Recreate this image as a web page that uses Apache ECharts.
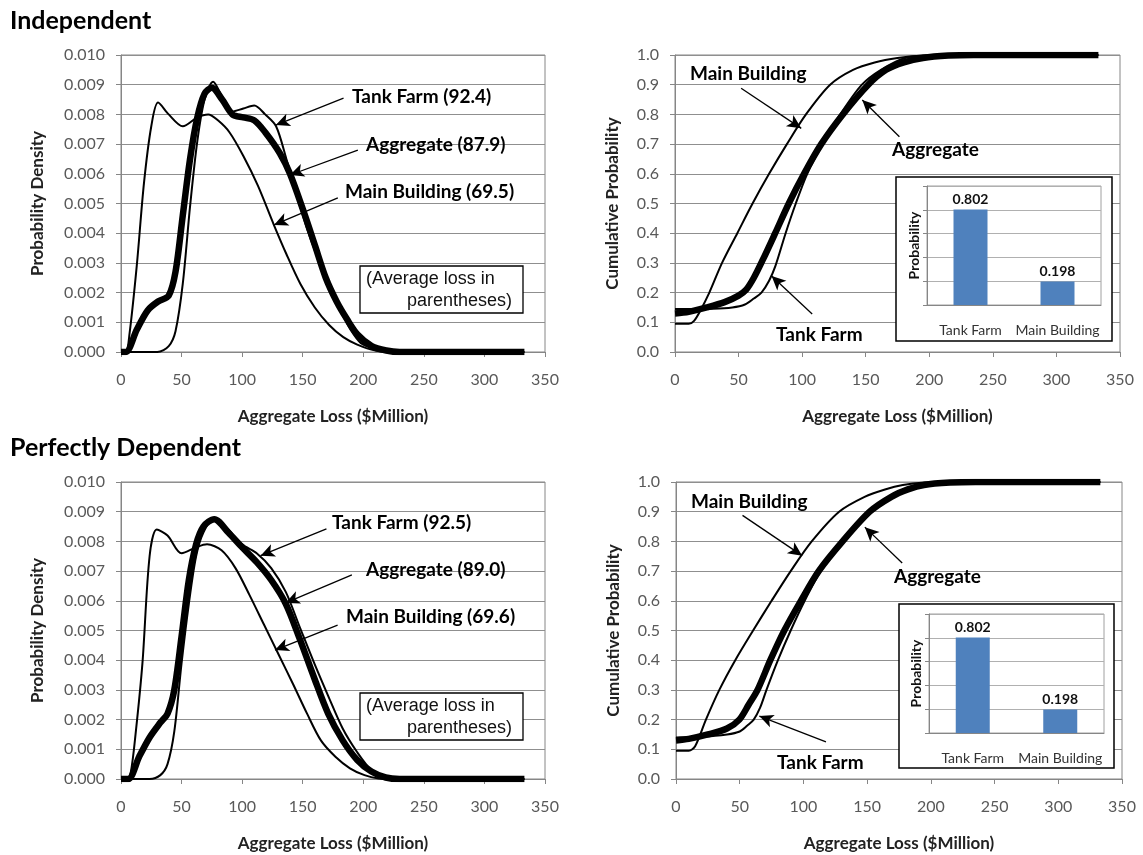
<!doctype html>
<html lang="en">
<head>
<meta charset="UTF-8">
<title>Aggregate loss</title>
<style>
  html, body { margin: 0; padding: 0; background: #fff; }
</style>
</head>
<body>
<div id="main" style="width: 1143px;height:855px;"></div>
<script src="https://cdn.jsdelivr.net/npm/echarts@6/dist/echarts.min.js"></script>
<script>
// density curves, [loss $M, density]
var indTankPdf = [[0,0],[30,0],[39.4,0.0002],[45,0.0007],[51,0.0023],[57,0.0049],[63,0.0071],[69,0.0085],[76,0.0091],[83.5,0.0086],[92,0.0081],[101,0.0082],[110,0.0083],[119,0.008],[128,0.0076],[136.5,0.0065],[145,0.0053],[154,0.0041],[163,0.0031],[172,0.0022],[181,0.0014],[189.5,0.00075],[198,0.0003],[210,0.0001],[222,0],[333,0]];
var indAggPdf = [[0,0],[4,0],[13,0.00075],[22,0.0014],[30.6,0.0017],[39.4,0.0019],[45,0.0027],[51,0.0046],[57,0.0065],[63,0.0079],[69,0.0087],[75,0.0089],[83.5,0.0085],[92,0.008],[101,0.0079],[110,0.0078],[119,0.0074],[131,0.0067],[139.5,0.006],[151,0.0047],[160,0.0036],[169,0.0025],[178,0.0017],[186.6,0.0011],[195,0.0006],[207,0.0002],[219,0.00005],[230,0],[333,0]];
var indMainPdf = [[0,0],[4,0],[7,0.0006],[13,0.0029],[19,0.0057],[25,0.0076],[30.6,0.0084],[39.4,0.008],[51,0.0076],[63,0.0079],[72,0.008],[80,0.0078],[89.5,0.0074],[101,0.0066],[113,0.0056],[126,0.0043],[136.5,0.0033],[148,0.0023],[160,0.0015],[172,0.0009],[183.5,0.0005],[195,0.00025],[210,0.00005],[225,0],[333,0]];

var depTankPdf = [[0,0],[23.6,0],[32.5,0.00013],[38.4,0.0005],[44,0.0016],[50,0.0039],[56,0.0059],[62,0.0075],[68,0.0083],[77,0.0088],[88.6,0.0084],[100,0.0079],[112,0.0076],[124,0.0071],[136,0.0063],[147.7,0.0051],[159.5,0.0039],[171,0.0028],[183,0.0017],[195,0.0009],[206.7,0.0003],[218.5,0.00005],[230,0],[333,0]];
var depAggPdf = [[0,0],[6,0],[15,0.00075],[23.6,0.0014],[32.5,0.0019],[38.4,0.0022],[44,0.003],[50,0.0048],[56,0.0067],[62,0.0079],[68,0.0085],[77,0.00875],[88.6,0.0083],[100,0.0078],[112,0.0073],[124,0.0067],[136,0.0059],[147.7,0.0047],[159.5,0.0034],[171,0.0022],[183,0.0013],[195,0.00064],[206.7,0.00025],[218.5,0.00005],[230,0],[333,0]];
var depMainPdf = [[0,0],[5,0],[8,0.0002],[12,0.0015],[17.7,0.0039],[23.6,0.0075],[29.5,0.0084],[38.4,0.0082],[50,0.0076],[62,0.0078],[71,0.0079],[83,0.0077],[94.5,0.0071],[106,0.0062],[118,0.0052],[130,0.0042],[142,0.0032],[153.6,0.0022],[165,0.0013],[177,0.00075],[189,0.00036],[201,0.00013],[212.6,0.00002],[225,0],[333,0]];

// cumulative curves, [loss $M, probability]
var indTankCdf = [[0,0.145],[30,0.146],[45,0.15],[55,0.16],[62,0.18],[68,0.2],[74,0.24],[79,0.29],[87,0.4],[95,0.5],[104,0.6],[116,0.7],[130,0.8],[147,0.9],[162,0.95],[181,0.99],[200,0.998],[220,1],[333,1]];
var indAggCdf = [[0,0.13],[10.8,0.135],[25,0.15],[39,0.168],[50,0.19],[56,0.21],[62,0.25],[69,0.31],[78.8,0.4],[89.5,0.5],[101.5,0.6],[115,0.7],[132,0.8],[152,0.9],[166,0.95],[180,0.975],[195,0.99],[215,0.998],[235,1],[333,1]];
var indMainCdf = [[0,0.095],[10.8,0.095],[15,0.105],[20,0.14],[27,0.2],[37,0.3],[49,0.4],[61,0.5],[74,0.6],[88,0.7],[103,0.8],[122,0.9],[140,0.95],[157,0.975],[175,0.99],[195,0.998],[220,1],[333,1]];

var depTankCdf = [[0,0.14],[20,0.142],[40,0.15],[50,0.16],[56,0.18],[61,0.2],[66,0.24],[71,0.3],[80,0.4],[90,0.5],[101,0.6],[113.6,0.7],[132,0.8],[152,0.9],[169,0.95],[194.6,0.99],[215,0.998],[235,1],[333,1]];
var depAggCdf = [[0,0.13],[10,0.135],[25,0.15],[40,0.17],[49.7,0.2],[57,0.25],[64,0.3],[74,0.4],[85,0.5],[98,0.6],[112,0.7],[130.7,0.8],[152,0.9],[169,0.95],[182,0.975],[194.6,0.99],[215,0.998],[235,1],[333,1]];
var depMainCdf = [[0,0.095],[10,0.095],[15,0.11],[23.5,0.2],[34,0.3],[46.5,0.4],[60.5,0.5],[75,0.6],[90,0.7],[106.5,0.8],[128,0.9],[148,0.95],[164,0.975],[178,0.99],[195,0.998],[220,1],[333,1]];

// inset bars
var insetCats = ['Tank Farm', 'Main Building'];
var insetProbs = [0.802, 0.198];

var myChart = echarts.init(document.getElementById('main'));

var axisGray = '#868686';
var labelGray = '#595959';
var nameFont = 'Lato, "Open Sans", sans-serif';

function lossAxis(grid) {
    return {
        gridIndex: grid, type: 'value', min: 0, max: 350, interval: 50,
        name: 'Aggregate Loss ($Million)', nameLocation: 'middle', nameGap: 56,
        nameTextStyle: { fontFamily: nameFont, fontWeight: 'bold', fontSize: 17, color: '#222' },
        axisLine: { lineStyle: { color: axisGray } },
        axisTick: { length: 5, lineStyle: { color: axisGray } },
        axisLabel: { margin: 20, fontFamily: nameFont, fontSize: 16, color: labelGray },
        splitLine: { show: false }
    };
}

function probAxis(grid, isCdf) {
    return {
        gridIndex: grid, type: 'value', min: 0,
        max: isCdf ? 1 : 0.01, interval: isCdf ? 0.1 : 0.001,
        name: isCdf ? 'Cumulative Probability' : 'Probability Density',
        nameLocation: 'middle', nameGap: isCdf ? 54 : 75,
        nameTextStyle: { fontFamily: nameFont, fontWeight: 'bold', fontSize: 17, color: '#222' },
        axisLine: { show: true, lineStyle: { color: axisGray } },
        axisTick: { show: true, length: 5, lineStyle: { color: axisGray } },
        axisLabel: {
            margin: 16, fontFamily: nameFont, fontSize: 16, color: labelGray,
            formatter: function (v) { return v.toFixed(isCdf ? 1 : 3); }
        },
        splitLine: { lineStyle: { color: '#8f8f8f', width: 1 } }
    };
}

function insetX(grid) {
    return {
        gridIndex: grid, type: 'category', data: insetCats, z: 10,
        axisLine: { lineStyle: { color: axisGray } },
        axisTick: { length: 5, lineStyle: { color: axisGray } },
        axisLabel: { interval: 0, hideOverlap: false, margin: 18, fontFamily: nameFont, fontSize: 14, color: '#333' }
    };
}

function insetY(grid) {
    return {
        gridIndex: grid, type: 'value', min: 0, max: 1, interval: 0.2, z: 10,
        name: 'Probability', nameLocation: 'middle', nameGap: 6,
        nameTextStyle: { fontFamily: nameFont, fontWeight: 'bold', fontSize: 14, color: '#111' },
        axisLine: { show: true, lineStyle: { color: axisGray } },
        axisTick: { show: true, length: 4, lineStyle: { color: axisGray } },
        axisLabel: { show: false },
        splitLine: { lineStyle: { color: '#b0b0b0' } }
    };
}

function curve(data, idx, thick, arrows) {
    var s = {
        type: 'line', xAxisIndex: idx, yAxisIndex: idx, data: data,
        smooth: 0.3, showSymbol: false, symbol: 'none', z: thick ? 3 : 4,
        lineStyle: { color: '#000', width: thick ? 6.5 : 2 }
    };
    if (arrows) {
        s.markLine = {
            silent: true, symbol: ['none', 'arrow'], symbolSize: [10, 14], animation: false,
            label: { show: false },
            lineStyle: { color: '#000', width: 1.3, type: 'solid' },
            data: arrows.map(function (a) {
                return [{ coord: a[0] }, { coord: a[1] }];
            })
        };
    }
    return s;
}

function insetBars(idx) {
    return {
        type: 'bar', xAxisIndex: idx, yAxisIndex: idx, data: insetProbs, z: 11,
        barWidth: 34, itemStyle: { color: '#4f81bd' },
        label: {
            show: true, position: 'top', distance: 3,
            fontFamily: nameFont, fontWeight: 'bold', fontSize: 14, color: '#111',
            formatter: function (p) { return p.value.toFixed(3); }
        }
    };
}

function bold(text, x, y, size) {
    return {
        type: 'text', x: x, y: y, z: 20,
        style: { text: text, fontFamily: nameFont, fontWeight: 'bold', fontSize: size || 19, fill: '#000', textVerticalAlign: 'middle' }
    };
}

function noteBox(x, y) {
    return [
        { type: 'rect', z: 5, shape: { x: x, y: y, width: 163, height: 47 },
          style: { fill: '#fff', stroke: '#000', lineWidth: 1.3 } },
        { type: 'text', z: 6, x: x + 6, y: y + 13,
          style: { text: '(Average loss in', fontFamily: 'Liberation Sans, Arial', fontSize: 18, fill: '#111', textVerticalAlign: 'middle' } },
        { type: 'text', z: 6, x: x + 152, y: y + 35,
          style: { text: 'parentheses)', fontFamily: 'Liberation Sans, Arial', fontSize: 18, fill: '#111', textAlign: 'right', textVerticalAlign: 'middle' } }
    ];
}

function insetBox(x, y, w, h) {
    return { type: 'rect', z: 5, shape: { x: x, y: y, width: w, height: h },
             style: { fill: '#fff', stroke: '#000', lineWidth: 1.5 } };
}

var mainGrid = { show: true, borderColor: axisGray, borderWidth: 1, backgroundColor: 'transparent' };

option = {
    animation: false,
    grid: [
        Object.assign({ left: 121, top: 55, width: 424, height: 297 }, mainGrid),
        Object.assign({ left: 675, top: 55, width: 445, height: 297 }, mainGrid),
        Object.assign({ left: 121, top: 482, width: 424, height: 297 }, mainGrid),
        Object.assign({ left: 676, top: 482, width: 446, height: 297 }, mainGrid),
        { left: 927, top: 186, width: 174, height: 119, z: 10, show: true, borderColor: '#a0a0a0', borderWidth: 1 },
        { left: 929, top: 614, width: 175, height: 119, z: 10, show: true, borderColor: '#a0a0a0', borderWidth: 1 }
    ],
    xAxis: [lossAxis(0), lossAxis(1), lossAxis(2), lossAxis(3), insetX(4), insetX(5)],
    yAxis: [probAxis(0, false), probAxis(1, true), probAxis(2, false), probAxis(3, true), insetY(4), insetY(5)],
    series: [
        curve(indAggPdf, 0, true),
        curve(indTankPdf, 0, false),
        curve(indMainPdf, 0, false, [
            [[183.7, 0.00855], [127.8, 0.00764]],
            [[195.5, 0.0068], [139.5, 0.00596]],
            [[179, 0.00519], [126.3, 0.00428]]
        ]),
        curve(indAggCdf, 1, true),
        curve(indTankCdf, 1, false),
        curve(indMainCdf, 1, false, [
            [[52, 0.888], [99.3, 0.753]],
            [[176.5, 0.7246], [147.3, 0.8485]],
            [[107.9, 0.128], [76, 0.256]]
        ]),
        curve(depAggPdf, 2, true),
        curve(depTankPdf, 2, false),
        curve(depMainPdf, 2, false, [
            [[169.6, 0.00842], [115.2, 0.00752]],
            [[190.6, 0.00687], [135.9, 0.00593]],
            [[178.8, 0.00518], [127.1, 0.00434]]
        ]),
        curve(depAggCdf, 3, true),
        curve(depTankCdf, 3, false),
        curve(depMainCdf, 3, false, [
            [[52.2, 0.8875], [99, 0.752]],
            [[177.5, 0.727], [148.2, 0.848]],
            [[117.7, 0.125], [65.4, 0.212]]
        ]),
        insetBars(4),
        insetBars(5)
    ],
    graphic: [
        bold('Independent', 10, 21, 25),
        bold('Perfectly Dependent', 10, 448, 25),
        bold('Tank Farm (92.4)', 352, 97),
        bold('Aggregate (87.9)', 366, 145),
        bold('Main Building (69.5)', 345, 192),
        bold('Main Building', 690, 74),
        bold('Aggregate', 892, 150),
        bold('Tank Farm', 776, 335),
        bold('Tank Farm (92.5)', 332, 523),
        bold('Aggregate (89.0)', 366, 570),
        bold('Main Building (69.6)', 346, 617),
        bold('Main Building', 691, 502),
        bold('Aggregate', 894, 577),
        bold('Tank Farm', 777, 763),
        insetBox(896, 177, 216, 164),
        insetBox(899, 604, 215, 164)
    ].concat(noteBox(360, 266), noteBox(360, 693))
};

myChart.setOption(option);
</script>
</body>
</html>
